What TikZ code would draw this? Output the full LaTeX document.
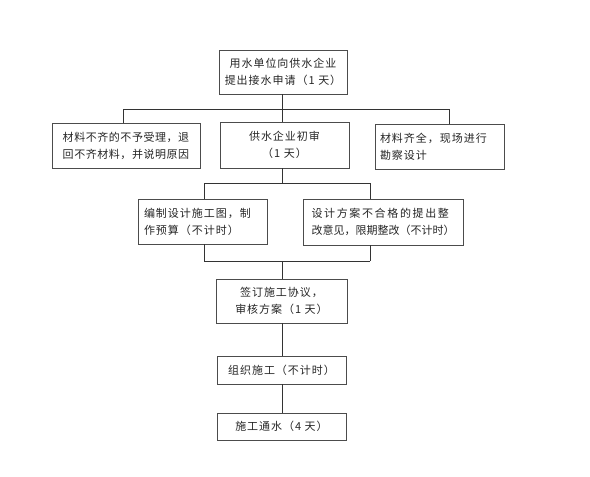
\documentclass[tikz,border=0pt]{standalone}
\usepackage{fontspec}
\newfontfamily\cjk[LetterSpace=9]{Noto Sans CJK SC}
\newfontfamily\cjkn[LetterSpace=5]{Noto Sans CJK SC}
\newfontfamily\cjkw[LetterSpace=15]{Noto Sans CJK SC}
\newfontfamily\cjkz{Noto Sans CJK SC}
\begin{document}
\begin{tikzpicture}[x=1pt,y=-1pt,
  box/.style={draw=black!70,line width=0.8pt,rectangle,inner sep=0pt,font=\cjk\fontsize{11}{17}\selectfont,text=black!85},
  ln/.style={draw=black!80,line width=0.8pt}]
\useasboundingbox[fill=white] (0,0) rectangle (590,477);
\node[box,minimum width=128pt,minimum height=44pt,align=center] (n1) at (283,72) {用水单位向供水企业\\提出接水申请（1 天）};
\node[box,minimum width=148pt,minimum height=45pt,align=left,font=\cjkn\fontsize{11}{17}\selectfont] (n2l) at (126,145.5) {材料不齐的不予受理，退\\回不齐材料，并说明原因};
\node[box,minimum width=129pt,minimum height=46pt,align=center] (n2m) at (284.5,145) {供水企业初审\\（1 天）};
\node[box,minimum width=129pt,minimum height=45pt,text width=119pt,align=left] (n2r) at (439.5,146.5) {材料齐全，现场进行\\勘察设计};
\node[box,minimum width=129pt,minimum height=45pt,text width=117pt,align=left] (n3l) at (202.5,221.5) {编制设计施工图，制\\作预算（不计时）};
\node[box,minimum width=160pt,minimum height=46pt,align=left] (n3r) at (383,222) {{\cjkw 设计方案不合格的提出整}\\{\cjkz 改意见，限期整改（不计时）}};
\node[box,minimum width=131pt,minimum height=44pt,align=center] (n4) at (281.5,301) {签订施工协议，\\审核方案（1 天）};
\node[box,minimum width=129pt,minimum height=28pt,align=center] (n5) at (281.5,370) {组织施工（不计时）};
\node[box,minimum width=129pt,minimum height=27pt,align=center] (n6) at (281.5,426.5) {施工通水（4 天）};
\coordinate (b1) at (282,109);
\coordinate (b1l) at (123,109);
\coordinate (b1r) at (449,109);
\coordinate (b2) at (282,183);
\coordinate (b2l) at (204,183);
\coordinate (b2r) at (370,183);
\coordinate (b3) at (282,261);
\coordinate (b3l) at (204,261);
\coordinate (b3r) at (370,261);
\draw[ln] (n1.south -| b1) -- (b1);
\draw[ln] (b1l) -- (b1r);
\draw[ln] (b1l) -- (b1l |- n2l.north);
\draw[ln] (b1) -- (b1 |- n2m.north);
\draw[ln] (b1r) -- (b1r |- n2r.north);
\draw[ln] (n2m.south -| b2) -- (b2);
\draw[ln] (b2l) -- (b2r);
\draw[ln] (b2l) -- (b2l |- n3l.north);
\draw[ln] (b2r) -- (b2r |- n3r.north);
\draw[ln] (b3l |- n3l.south) -- (b3l);
\draw[ln] (b3r |- n3r.south) -- (b3r);
\draw[ln] (b3l) -- (b3r);
\draw[ln] (b3) -- (b3 |- n4.north);
\draw[ln] (n4.south -| b3) -- (b3 |- n5.north);
\draw[ln] (n5.south -| b3) -- (b3 |- n6.north);
\end{tikzpicture}
\end{document}
